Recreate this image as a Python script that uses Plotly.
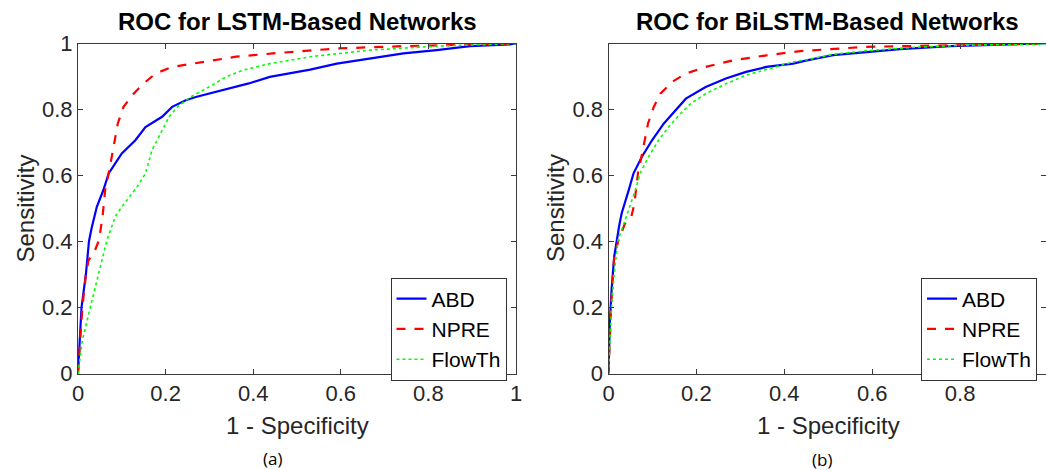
import plotly.graph_objects as go

W, H = 1046, 470

# ---------------- data ----------------
# Left panel: LSTM-Based Networks
lstm_abd_x = [0, 0.008, 0.018, 0.025, 0.031, 0.043, 0.058, 0.070, 0.100, 0.131, 0.154, 0.192, 0.215, 0.246, 0.269, 0.330, 0.390, 0.438, 0.530, 0.591, 0.667, 0.743, 0.819, 0.895, 0.986, 1.0]
lstm_abd_y = [0, 0.200, 0.300, 0.400, 0.440, 0.505, 0.556, 0.606, 0.667, 0.707, 0.747, 0.778, 0.808, 0.828, 0.838, 0.859, 0.879, 0.899, 0.921, 0.939, 0.955, 0.970, 0.980, 0.992, 0.997, 1.0]

lstm_npre_x = [0, 0.010, 0.018, 0.024, 0.039, 0.048, 0.056, 0.062, 0.070, 0.084, 0.091, 0.104, 0.127, 0.150, 0.177, 0.215, 0.284, 0.361, 0.445, 0.591, 0.743, 0.895, 1.0]
lstm_npre_y = [0, 0.200, 0.300, 0.343, 0.374, 0.404, 0.475, 0.556, 0.606, 0.707, 0.758, 0.808, 0.848, 0.879, 0.909, 0.929, 0.944, 0.960, 0.970, 0.985, 0.992, 0.996, 1.0]

lstm_flow_x = [0, 0.010, 0.028, 0.047, 0.066, 0.085, 0.100, 0.135, 0.154, 0.169, 0.188, 0.208, 0.227, 0.257, 0.300, 0.338, 0.376, 0.438, 0.537, 0.667, 0.819, 0.971, 1.0]
lstm_flow_y = [0, 0.101, 0.200, 0.303, 0.404, 0.475, 0.505, 0.566, 0.606, 0.677, 0.727, 0.778, 0.808, 0.838, 0.869, 0.899, 0.919, 0.939, 0.961, 0.980, 0.992, 0.998, 1.0]

# Right panel: BiLSTM-Based Networks
bilstm_abd_x = [0, 0.003, 0.007, 0.013, 0.024, 0.030, 0.046, 0.057, 0.076, 0.099, 0.126, 0.149, 0.176, 0.221, 0.267, 0.313, 0.359, 0.420, 0.451, 0.511, 0.587, 0.663, 0.777, 0.891, 0.978, 1.0]
bilstm_abd_y = [0, 0.153, 0.254, 0.354, 0.445, 0.485, 0.555, 0.606, 0.656, 0.706, 0.757, 0.792, 0.832, 0.867, 0.893, 0.913, 0.928, 0.938, 0.948, 0.964, 0.974, 0.982, 0.991, 0.995, 0.997, 1.0]

bilstm_npre_x = [0, 0.006, 0.013, 0.023, 0.038, 0.052, 0.059, 0.062, 0.067, 0.075, 0.082, 0.090, 0.103, 0.118, 0.145, 0.176, 0.221, 0.283, 0.359, 0.436, 0.587, 0.739, 0.891, 0.978, 1.0]
bilstm_npre_y = [0, 0.203, 0.354, 0.405, 0.455, 0.475, 0.515, 0.555, 0.606, 0.656, 0.706, 0.757, 0.807, 0.847, 0.883, 0.908, 0.928, 0.948, 0.963, 0.976, 0.989, 0.992, 0.996, 0.999, 1.0]

bilstm_flow_x = [0, 0.007, 0.013, 0.022, 0.038, 0.049, 0.061, 0.072, 0.091, 0.114, 0.137, 0.164, 0.187, 0.221, 0.267, 0.313, 0.367, 0.420, 0.451, 0.511, 0.587, 0.701, 0.815, 0.978, 1.0]
bilstm_flow_y = [0, 0.203, 0.304, 0.405, 0.465, 0.505, 0.555, 0.606, 0.656, 0.706, 0.747, 0.787, 0.817, 0.847, 0.877, 0.903, 0.923, 0.943, 0.950, 0.966, 0.977, 0.988, 0.994, 0.997, 1.0]

series_names = ["ABD", "NPRE", "FlowTh"]
titles = ["ROC for LSTM-Based Networks", "ROC for BiLSTM-Based Networks"]
x_label = "1 - Specificity"
y_label = "Sensitivity"
tick_vals = [0, 0.2, 0.4, 0.6, 0.8, 1]
tick_text = ["0", "0.2", "0.4", "0.6", "0.8", "1"]
captions = ["(a)", "(b)"]

# ---------------- styling ----------------
colors = ["#0000FF", "#FF0000", "#00FF00"]
dashes = ["solid", "dash", "dot"]
widths = [2.2, 2.2, 1.6]
FONT = "Liberation Sans, Arial, sans-serif"
AX = "#3a3a3a"

# pixel geometry
L1, R1 = 78, 516
L2, R2x1 = 608.5, 1048   # x=1 of right panel lies beyond the picture edge
TOP, BOT = 43.5, 373.5

def px(x):
    return x / W

def py(y):
    return (H - y) / H

fig = go.Figure()
panels = [
    (lstm_abd_x, lstm_abd_y, lstm_npre_x, lstm_npre_y, lstm_flow_x, lstm_flow_y),
    (bilstm_abd_x, bilstm_abd_y, bilstm_npre_x, bilstm_npre_y, bilstm_flow_x, bilstm_flow_y),
]
for p, data in enumerate(panels):
    xa = "x" if p == 0 else "x2"
    ya = "y" if p == 0 else "y2"
    lg = "legend" if p == 0 else "legend2"
    for i in range(3):
        fig.add_trace(go.Scatter(
            x=data[2 * i], y=data[2 * i + 1], mode="lines", name=series_names[i],
            line=dict(color=colors[i], dash=dashes[i], width=widths[i]),
            xaxis=xa, yaxis=ya, legend=lg, showlegend=True))

right_xmax = (W - L2) / (R2x1 - L2)

axis_common = dict(
    showline=True, linecolor=AX, linewidth=1, mirror="ticks",
    ticks="inside", ticklen=5, tickcolor=AX, tickwidth=1,
    showgrid=False, zeroline=False, automargin=False,
    tickfont=dict(family=FONT, size=22, color="#262626"),
)

leg_common = dict(xanchor="right", yanchor="top",
                  bgcolor="white", bordercolor="#333333", borderwidth=1,
                  font=dict(family=FONT, size=21, color="black"),
                  itemwidth=30, tracegroupgap=0)

fig.update_layout(
    width=W, height=H,
    margin=dict(l=0, r=0, t=0, b=0, autoexpand=False),
    paper_bgcolor="white", plot_bgcolor="white",
    xaxis=dict(domain=[px(L1), px(R1)], range=[0, 1], tickvals=tick_vals, ticktext=tick_text,
               anchor="y", **axis_common),
    yaxis=dict(domain=[py(BOT), py(TOP)], range=[0, 1], tickvals=tick_vals, ticktext=tick_text,
               anchor="x", **axis_common),
    xaxis2=dict(domain=[px(L2), 1], range=[0, right_xmax], tickvals=tick_vals[:-1], ticktext=tick_text[:-1],
                anchor="y2", **axis_common),
    yaxis2=dict(domain=[py(BOT), py(TOP)], range=[0, 0.999], tickvals=tick_vals[:-1], ticktext=tick_text[:-1],
                anchor="x2", **axis_common),
    legend=dict(x=px(506.5), y=py(277.5), **leg_common),
    legend2=dict(x=px(1037), y=py(277.5), **leg_common),
    showlegend=True,
)

ann = []
centers = [(L1 + R1) / 2, (L2 + W) / 2]
left_edges = [L1, L2]
for p in range(2):
    ann.append(dict(text="<b>" + titles[p] + "</b>", x=px(centers[p]), y=py(22), xref="paper", yref="paper",
                    xanchor="center", yanchor="middle", showarrow=False,
                    font=dict(family=FONT, size=24, color="black")))
    ann.append(dict(text=x_label, x=px((L1 + R1) / 2 if p == 0 else (L2 + R2x1) / 2), y=py(425),
                    xref="paper", yref="paper", xanchor="center", yanchor="middle", showarrow=False,
                    font=dict(family=FONT, size=24, color="#262626")))
    ann.append(dict(text=y_label, x=px(left_edges[p] - 53), y=py((TOP + BOT) / 2),
                    xref="paper", yref="paper", xanchor="center", yanchor="middle", showarrow=False,
                    textangle=-90, font=dict(family=FONT, size=24, color="#262626")))
ann.append(dict(text=captions[0], x=px(272), y=py(458), xref="paper", yref="paper",
                xanchor="center", yanchor="middle", showarrow=False,
                font=dict(family="Open Sans, sans-serif", size=17, color="black")))
ann.append(dict(text=captions[1], x=px(822), y=py(459), xref="paper", yref="paper",
                xanchor="center", yanchor="middle", showarrow=False,
                font=dict(family="Open Sans, sans-serif", size=17, color="black")))
fig.update_layout(annotations=ann)

fig.write_html("out.html", config={"displayModeBar": False},
               post_script="document.body.style.margin='0';document.body.style.overflow='hidden';")
